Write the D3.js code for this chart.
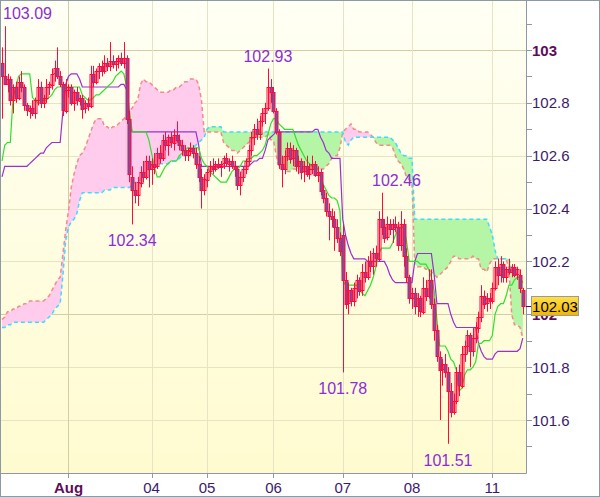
<!DOCTYPE html>
<html><head><meta charset="utf-8">
<script src="https://cdn.jsdelivr.net/npm/d3@7"></script>
<style>html,body{margin:0;padding:0;background:#fff;}svg{display:block;font-family:"Liberation Sans",Arial,sans-serif;}</style>
</head><body><svg id="c" width="600" height="497"></svg>
<script>
// ---- data (hourly candles) ----
const opens=[102.95,102.90,102.87,102.89,102.81,102.86,102.82,102.88,102.86,102.79,102.77,102.78,102.76,102.81,102.86,102.80,102.82,102.86,102.87,102.91,
102.93,102.90,102.87,102.77,102.85,102.86,102.80,102.84,102.81,102.82,102.78,102.80,102.79,102.91,102.88,102.92,102.94,102.92,102.95,102.94,
102.96,102.95,102.96,102.97,102.95,102.97,102.74,102.52,102.47,102.45,102.50,102.54,102.52,102.58,102.55,102.57,102.56,102.61,102.59,102.66,
102.64,102.67,102.65,102.68,102.66,102.64,102.62,102.60,102.62,102.63,102.61,102.57,102.52,102.47,102.51,102.54,102.56,102.55,102.57,102.56,
102.57,102.59,102.57,102.58,102.56,102.55,102.49,102.52,102.55,102.58,102.62,102.67,102.70,102.68,102.73,102.76,102.78,102.86,102.84,102.77,
102.69,102.57,102.55,102.60,102.63,102.59,102.62,102.56,102.58,102.54,102.56,102.53,102.55,102.57,102.53,102.54,102.47,102.44,102.39,102.37,
102.36,102.33,102.29,102.30,102.13,102.04,102.09,102.05,102.10,102.13,102.09,102.16,102.14,102.20,102.18,102.23,102.21,102.36,102.33,102.29,
102.34,102.32,102.34,102.33,102.26,102.34,102.22,102.14,102.06,102.08,102.03,102.06,102.01,102.10,102.07,102.13,102.04,101.94,101.84,101.79,
101.81,101.78,101.71,101.63,101.67,101.78,101.73,101.85,101.88,101.92,101.86,101.91,101.95,101.99,102.07,102.04,102.06,102.05,102.10,102.18,
102.15,102.19,102.14,102.17,102.16,102.18,102.15,102.15,102.09];
const highs=[103.01,103.09,102.91,102.90,102.87,102.88,102.90,102.92,102.87,102.80,102.79,102.81,102.82,102.89,102.88,102.83,102.89,102.88,102.93,102.96,
103.01,102.92,102.88,102.89,102.87,102.87,102.85,102.86,102.83,102.83,102.81,102.82,102.94,102.94,102.93,102.95,102.96,102.98,102.97,103.03,
102.98,102.97,102.98,102.99,103.03,102.98,102.77,102.56,102.50,102.52,102.56,102.58,102.60,102.60,102.59,102.61,102.63,102.64,102.68,102.69,
102.68,102.69,102.70,102.73,102.68,102.66,102.64,102.63,102.65,102.64,102.63,102.60,102.55,102.53,102.55,102.58,102.59,102.58,102.59,102.58,
102.60,102.61,102.59,102.60,102.58,102.56,102.54,102.56,102.59,102.64,102.69,102.72,102.74,102.75,102.78,102.80,102.93,102.89,102.86,102.78,
102.70,102.60,102.62,102.65,102.65,102.64,102.63,102.60,102.59,102.58,102.60,102.57,102.60,102.58,102.56,102.55,102.49,102.46,102.42,102.40,
102.39,102.36,102.31,102.34,102.16,102.12,102.10,102.12,102.15,102.14,102.19,102.20,102.22,102.24,102.25,102.26,102.39,102.46,102.36,102.37,
102.36,102.36,102.37,102.35,102.39,102.36,102.25,102.15,102.10,102.10,102.08,102.07,102.14,102.13,102.17,102.17,102.06,101.96,101.86,101.83,
101.85,101.80,101.74,101.70,101.80,101.81,101.88,101.90,101.94,101.93,101.95,101.97,102.01,102.11,102.09,102.08,102.08,102.12,102.20,102.21,
102.22,102.20,102.18,102.21,102.19,102.19,102.18,102.17,102.10];
const lows=[102.74,102.88,102.84,102.79,102.76,102.80,102.81,102.84,102.77,102.75,102.74,102.75,102.74,102.79,102.78,102.78,102.80,102.83,102.85,102.88,
102.89,102.86,102.75,102.76,102.82,102.79,102.77,102.79,102.79,102.74,102.76,102.77,102.78,102.86,102.87,102.89,102.90,102.91,102.92,102.92,
102.93,102.92,102.93,102.94,102.93,102.72,102.50,102.34,102.42,102.41,102.48,102.50,102.51,102.48,102.49,102.53,102.55,102.57,102.58,102.62,
102.60,102.63,102.62,102.65,102.62,102.60,102.58,102.58,102.60,102.59,102.55,102.50,102.40,102.45,102.48,102.52,102.53,102.54,102.55,102.52,
102.55,102.56,102.54,102.55,102.52,102.47,102.45,102.50,102.53,102.56,102.60,102.64,102.66,102.66,102.71,102.72,102.77,102.80,102.76,102.68,
102.55,102.48,102.53,102.58,102.57,102.56,102.54,102.53,102.51,102.50,102.52,102.51,102.53,102.52,102.50,102.45,102.42,102.37,102.28,102.33,
102.24,102.27,102.22,101.78,102.02,102.00,102.03,102.03,102.06,102.07,102.07,102.12,102.13,102.16,102.15,102.18,102.20,102.30,102.27,102.28,
102.30,102.27,102.31,102.24,102.24,102.18,102.12,102.04,102.02,102.00,101.99,101.99,102.00,102.05,102.06,102.02,101.90,101.82,101.60,101.73,
101.76,101.51,101.61,101.62,101.66,101.69,101.72,101.82,101.85,101.80,101.84,101.89,101.93,101.97,102.02,102.01,102.02,102.04,102.09,102.11,
102.12,102.12,102.12,102.15,102.14,102.14,102.13,102.08,102.00];
const closes=[102.90,102.87,102.89,102.81,102.86,102.82,102.88,102.86,102.79,102.77,102.78,102.76,102.81,102.86,102.80,102.82,102.86,102.87,102.91,102.93,
102.90,102.87,102.77,102.85,102.86,102.80,102.84,102.81,102.82,102.78,102.80,102.79,102.91,102.88,102.92,102.94,102.92,102.95,102.94,102.96,
102.95,102.96,102.97,102.95,102.97,102.74,102.53,102.47,102.45,102.50,102.54,102.52,102.58,102.55,102.57,102.56,102.61,102.59,102.66,102.64,
102.67,102.65,102.68,102.66,102.64,102.62,102.60,102.62,102.63,102.61,102.57,102.52,102.47,102.51,102.54,102.56,102.55,102.57,102.56,102.57,
102.59,102.57,102.58,102.56,102.55,102.49,102.52,102.55,102.58,102.62,102.67,102.70,102.68,102.73,102.76,102.78,102.86,102.84,102.77,102.69,
102.57,102.55,102.60,102.63,102.59,102.62,102.56,102.58,102.54,102.56,102.53,102.55,102.57,102.53,102.54,102.47,102.44,102.39,102.37,102.36,
102.33,102.29,102.24,102.13,102.04,102.09,102.05,102.10,102.13,102.09,102.16,102.14,102.20,102.18,102.23,102.21,102.36,102.33,102.29,102.34,
102.32,102.34,102.33,102.26,102.34,102.22,102.14,102.06,102.08,102.03,102.06,102.01,102.10,102.07,102.13,102.04,101.94,101.84,101.79,101.81,
101.78,101.71,101.63,101.67,101.78,101.73,101.85,101.88,101.92,101.86,101.91,101.95,101.99,102.07,102.04,102.06,102.05,102.10,102.18,102.15,
102.19,102.14,102.17,102.16,102.18,102.15,102.17,102.10,102.03];
// Ichimoku lines
const tenkan=[102.58,102.64,102.65,102.65,102.82,102.86,102.90,102.91,102.91,102.91,102.91,102.82,102.81,102.80,102.80,102.81,102.81,102.82,102.83,102.85,
102.86,102.86,102.86,102.86,102.86,102.86,102.86,102.86,102.86,102.83,102.82,102.81,102.81,102.82,102.83,102.83,102.84,102.85,102.86,102.87,
102.88,102.90,102.91,102.92,102.91,102.86,102.77,102.69,102.69,102.69,102.69,102.69,102.69,102.66,102.61,102.56,102.52,102.52,102.54,102.56,
102.57,102.58,102.58,102.58,102.60,102.61,102.62,102.63,102.63,102.63,102.63,102.63,102.59,102.57,102.56,102.54,102.53,102.52,102.51,102.50,
102.50,102.50,102.52,102.54,102.55,102.55,102.56,102.58,102.58,102.59,102.59,102.60,102.60,102.61,102.62,102.64,102.68,102.72,102.74,102.74,
102.72,102.71,102.70,102.70,102.70,102.70,102.67,102.64,102.62,102.60,102.58,102.57,102.56,102.56,102.55,102.52,102.49,102.47,102.45,102.44,
102.44,102.43,102.39,102.13,102.11,102.11,102.11,102.11,102.11,102.09,102.08,102.07,102.09,102.11,102.14,102.18,102.23,102.25,102.25,102.25,
102.25,102.27,102.30,102.32,102.33,102.33,102.28,102.20,102.20,102.20,102.20,102.19,102.19,102.19,102.17,102.14,102.09,101.98,101.88,101.88,
101.88,101.86,101.83,101.82,101.79,101.71,101.72,101.77,101.79,101.79,101.80,101.82,101.89,101.89,101.90,101.90,101.90,101.92,102.00,102.03,
102.04,102.04,102.07,102.11,102.11,102.13,102.14,102.14,102.12];
const kijun=[102.52,102.56,102.56,102.56,102.56,102.56,102.56,102.56,102.56,102.56,102.57,102.58,102.59,102.60,102.61,102.61,102.63,102.64,102.65,102.65,
102.65,102.65,102.77,102.87,102.90,102.91,102.91,102.91,102.89,102.86,102.86,102.86,102.86,102.86,102.86,102.86,102.86,102.86,102.86,102.86,
102.86,102.86,102.86,102.87,102.87,102.85,102.72,102.69,102.69,102.69,102.69,102.69,102.69,102.69,102.69,102.69,102.69,102.69,102.69,102.69,
102.69,102.69,102.69,102.69,102.69,102.69,102.69,102.69,102.69,102.69,102.69,102.64,102.56,102.56,102.56,102.56,102.56,102.56,102.56,102.56,
102.56,102.56,102.56,102.56,102.56,102.56,102.56,102.56,102.56,102.56,102.57,102.58,102.58,102.59,102.59,102.62,102.66,102.67,102.68,102.69,
102.69,102.69,102.69,102.69,102.69,102.69,102.69,102.69,102.69,102.69,102.69,102.69,102.69,102.70,102.70,102.67,102.65,102.62,102.61,102.59,
102.59,102.59,102.59,102.36,102.30,102.26,102.23,102.21,102.21,102.21,102.21,102.21,102.20,102.20,102.20,102.20,102.20,102.20,102.20,102.18,
102.15,102.13,102.12,102.12,102.12,102.12,102.12,102.12,102.12,102.20,102.23,102.23,102.23,102.23,102.23,102.23,102.15,102.04,102.04,102.04,
102.04,102.04,102.00,101.97,101.95,101.95,101.95,101.95,101.95,101.95,101.95,101.95,101.89,101.86,101.84,101.83,101.83,101.83,101.85,101.86,
101.86,101.86,101.86,101.86,101.86,101.86,101.86,101.87,101.91];
const spanA=[101.98,101.99,102.01,102.01,102.02,102.02,102.03,102.03,102.04,102.04,102.05,102.05,102.05,102.05,102.05,102.05,102.06,102.07,102.09,102.11,
102.13,102.14,102.23,102.32,102.39,102.48,102.53,102.57,102.60,102.61,102.63,102.66,102.69,102.72,102.74,102.74,102.74,102.71,102.71,102.70,
102.71,102.71,102.72,102.73,102.74,102.75,102.77,102.78,102.80,102.81,102.87,102.89,102.88,102.88,102.87,102.86,102.85,102.84,102.84,102.84,
102.84,102.85,102.85,102.86,102.86,102.87,102.88,102.88,102.89,102.89,102.89,102.87,102.81,102.69,102.69,102.69,102.69,102.69,102.69,102.69,
102.65,102.64,102.63,102.62,102.62,102.61,102.62,102.63,102.64,102.65,102.66,102.67,102.67,102.67,102.67,102.67,102.68,102.66,102.66,102.60,
102.56,102.55,102.55,102.54,102.54,102.55,102.55,102.55,102.55,102.55,102.55,102.55,102.55,102.55,102.55,102.55,102.55,102.56,102.57,102.59,
102.60,102.60,102.63,102.69,102.70,102.71,102.72,102.70,102.70,102.69,102.69,102.69,102.69,102.68,102.67,102.65,102.64,102.64,102.64,102.64,
102.64,102.63,102.60,102.58,102.57,102.55,102.52,102.51,102.50,102.19,102.18,102.18,102.18,102.17,102.17,102.16,102.15,102.14,102.15,102.16,
102.17,102.18,102.20,102.22,102.22,102.21,102.21,102.21,102.21,102.21,102.22,102.21,102.21,102.17,102.17,102.16,102.19,102.21,102.21,102.21,
102.21,102.21,102.21,102.17,102.00,101.96,101.96,101.95,101.91];
const spanB=[101.95,101.95,101.96,101.96,101.97,101.97,101.97,101.97,101.97,101.97,101.97,101.97,101.97,101.97,101.97,101.97,101.98,101.99,102.00,102.02,
102.03,102.04,102.15,102.28,102.33,102.35,102.36,102.38,102.43,102.46,102.46,102.46,102.46,102.46,102.46,102.46,102.46,102.47,102.47,102.47,
102.48,102.48,102.48,102.48,102.48,102.48,102.48,102.49,102.50,102.50,102.51,102.53,102.54,102.55,102.56,102.56,102.56,102.57,102.57,102.57,
102.57,102.58,102.58,102.58,102.59,102.60,102.60,102.61,102.62,102.63,102.64,102.65,102.66,102.67,102.70,102.71,102.71,102.71,102.71,102.71,
102.69,102.69,102.69,102.69,102.69,102.69,102.69,102.69,102.69,102.69,102.69,102.69,102.69,102.69,102.69,102.69,102.69,102.69,102.69,102.69,
102.69,102.69,102.69,102.69,102.69,102.69,102.69,102.69,102.69,102.69,102.69,102.69,102.69,102.69,102.69,102.69,102.69,102.69,102.69,102.69,
102.69,102.69,102.69,102.69,102.65,102.64,102.66,102.67,102.67,102.67,102.67,102.67,102.67,102.67,102.67,102.67,102.67,102.67,102.67,102.67,
102.67,102.66,102.65,102.63,102.61,102.60,102.60,102.59,102.59,102.36,102.36,102.36,102.36,102.36,102.36,102.36,102.36,102.36,102.36,102.36,
102.36,102.36,102.36,102.36,102.36,102.36,102.36,102.36,102.36,102.36,102.36,102.36,102.36,102.36,102.36,102.36,102.33,102.30,102.24,102.21,
102.21,102.21,102.21,102.21,102.17,102.16,102.15,102.14,102.12];
// x axis: day labels at candle indices
const dayLabels=["Aug","04","05","06","07","08","11"];
const dayIndex=[24,54,74,98,123,148,177];
const dayBold=[true,false,false,false,false,false,false];
// y axis
const yMajor=[101.6,101.8,102.0,102.2,102.4,102.6,102.8,103.0];
const yMajorLabels=["101.6","101.8","102","102.2","102.4","102.6","102.8","103"];
const yMinor=[101.5,101.7,101.9,102.1,102.3,102.5,102.7,102.9,103.1];
// marked extremes: candle index and kind
const extremeIdx=[1,96,137,47,123,161];
const extremeKind=["high","high","high","low","low","low"];

// ---- drawing ----
const svg=d3.select("#c");
const W=600,H=497, PL=1,PT=1,PR=526,PB=473;
const N=closes.length;
const x=d3.scaleLinear().domain([0,188]).range([2,522.8]);
const y=d3.scaleLinear().domain([101.6,103]).range([420,50]);

const defs=svg.append("defs");
const bg=defs.append("linearGradient").attr("id","bg").attr("x1",0).attr("y1",0).attr("x2",0).attr("y2",1);
bg.append("stop").attr("offset","0%").attr("stop-color","#fffff4");
bg.append("stop").attr("offset","100%").attr("stop-color","#fffbd0");
const gold=defs.append("linearGradient").attr("id","gold").attr("x1",0).attr("y1",0).attr("x2",0).attr("y2",1);
gold.append("stop").attr("offset","0%").attr("stop-color","#ffe14a");
gold.append("stop").attr("offset","100%").attr("stop-color","#f2b400");
defs.append("clipPath").attr("id","clip").append("rect").attr("x",PL).attr("y",PT).attr("width",PR-PL).attr("height",PB-PT);

svg.append("rect").attr("width",W).attr("height",H).attr("fill","#fff");
svg.append("rect").attr("x",PL).attr("y",PT).attr("width",PR-PL).attr("height",PB-PT).attr("fill","url(#bg)");

const plot=svg.append("g").attr("clip-path","url(#clip)");
// grid
plot.selectAll("line.hg").data(yMajor).join("line")
  .attr("x1",PL).attr("x2",PR)
  .attr("y1",d=>Math.round(y(d))+0.5).attr("y2",d=>Math.round(y(d))+0.5)
  .attr("stroke",d=>Math.abs(d-Math.round(d))<1e-6?"#d2cda2":"#e7e4c4").attr("stroke-width",1);
plot.selectAll("line.vg").data(dayIndex).join("line")
  .attr("x1",d=>Math.round(x(d))+0.5).attr("x2",d=>Math.round(x(d))+0.5)
  .attr("y1",PT).attr("y2",PB)
  .attr("stroke",(d,i)=>dayBold[i]?"#d2cda2":"#e7e4c4").attr("stroke-width",1);

// cloud
const cloud=d3.range(Math.min(spanA.length,spanB.length)).map(i=>({i,a:spanA[i],b:spanB[i]}));
plot.append("path").datum(cloud).attr("fill","#ffccee")
  .attr("d",d3.area().x(d=>x(d.i)).y0(d=>y(d.b)).y1(d=>y(Math.max(d.a,d.b))));
plot.append("path").datum(cloud).attr("fill","#b4f6a6")
  .attr("d",d3.area().x(d=>x(d.i)).y0(d=>y(d.a)).y1(d=>y(Math.max(d.a,d.b))));
plot.append("path").datum(cloud).attr("fill","none").attr("stroke","#f58a8a").attr("stroke-width",1.5).attr("stroke-dasharray","4,3")
  .attr("d",d3.line().x(d=>x(d.i)).y(d=>y(d.a)));
plot.append("path").datum(cloud).attr("fill","none").attr("stroke","#38defc").attr("stroke-width",1.5).attr("stroke-dasharray","4,3")
  .attr("d",d3.line().x(d=>x(d.i)).y(d=>y(d.b)));

// kijun & tenkan
plot.append("path").datum(kijun).attr("fill","none").attr("stroke","#9a30d0").attr("stroke-width",1.2)
  .attr("d",d3.line().x((d,i)=>x(i)).y(d=>y(d)));
plot.append("path").datum(tenkan).attr("fill","none").attr("stroke","#2ee02e").attr("stroke-width",1.2)
  .attr("d",d3.line().x((d,i)=>x(i)).y(d=>y(d)));

// candles
const candles=d3.range(N).map(i=>({i,o:opens[i],h:highs[i],l:lows[i],c:closes[i]}));
const cg=plot.append("g");
cg.selectAll("line").data(candles).join("line")
  .attr("x1",d=>Math.round(x(d.i))+0.5).attr("x2",d=>Math.round(x(d.i))+0.5)
  .attr("y1",d=>y(d.h)).attr("y2",d=>y(d.l)).attr("stroke","#ff0a3c").attr("stroke-width",1);
cg.selectAll("rect").data(candles).join("rect")
  .attr("x",d=>Math.round(x(d.i))-1).attr("width",3)
  .attr("y",d=>Math.round(y(Math.max(d.o,d.c)))+0.5)
  .attr("height",d=>Math.max(1,Math.round(Math.abs(y(d.o)-y(d.c)))))
  .attr("fill",d=>d.c<d.o?"#7452a6":"none")
  .attr("stroke","#ff0a3c").attr("stroke-width",1);

// extreme labels
const labelShift={137:15};
extremeIdx.forEach((idx,k)=>{
  const hi=extremeKind[k]==="high";
  const v=hi?highs[idx]:lows[idx];
  const txt=v.toFixed(2);
  const t=svg.append("text").text(txt).attr("font-size",16).attr("fill","#8e2cd6")
    .attr("y",hi?y(v)-7:y(v)+22);
  const w=t.node().getComputedTextLength();
  let cx=x(idx)+(labelShift[idx]||0);
  let left=Math.max(3,Math.min(cx-w/2,PR-3-w));
  t.attr("x",left);
});

// axes
svg.append("line").attr("x1",PR+0.5).attr("x2",PR+0.5).attr("y1",0).attr("y2",PB+0.5).attr("stroke","#8c9aa8");
svg.append("line").attr("x1",0).attr("x2",PR+0.5).attr("y1",PB+0.5).attr("y2",PB+0.5).attr("stroke","#8c9aa8");
svg.selectAll("line.ymaj").data(yMajor.concat(yMinor)).join("line")
  .attr("x1",PR).attr("x2",PR+6)
  .attr("y1",d=>Math.round(y(d))+0.5).attr("y2",d=>Math.round(y(d))+0.5).attr("stroke","#8c9aa8");
svg.selectAll("text.yl").data(yMajor).join("text")
  .attr("x",532).attr("y",d=>y(d)+5.5)
  .attr("font-size",15)
  .attr("font-weight",(d,i)=>yMajorLabels[i].indexOf(".")<0?"bold":"normal")
  .attr("fill",(d,i)=>yMajorLabels[i].indexOf(".")<0?"#5e0c5a":"#3c1a6e")
  .text((d,i)=>yMajorLabels[i]);
svg.selectAll("line.xt").data(dayIndex).join("line")
  .attr("x1",d=>Math.round(x(d))+0.5).attr("x2",d=>Math.round(x(d))+0.5)
  .attr("y1",PB).attr("y2",PB+5).attr("stroke","#8c9aa8");
svg.selectAll("text.xl").data(dayIndex).join("text")
  .attr("x",d=>x(d)).attr("y",492.5).attr("text-anchor","middle")
  .attr("font-size",15).attr("font-weight",(d,i)=>dayBold[i]?"bold":"normal")
  .attr("fill",(d,i)=>dayBold[i]?"#5e0c5a":"#3c1a6e")
  .text((d,i)=>dayLabels[i]);

// last price box
const last=closes[N-1], ly=y(last);
svg.append("line").attr("x1",PR).attr("x2",532).attr("y1",Math.round(ly)+0.5).attr("y2",Math.round(ly)+0.5).attr("stroke","#550055");
svg.append("rect").attr("x",531.5).attr("y",Math.round(ly)-9.5).attr("width",47).attr("height",19)
  .attr("fill","url(#gold)").attr("stroke","#9a9a9a");
svg.append("text").attr("x",555).attr("y",ly+5.5).attr("text-anchor","middle").attr("font-size",15).attr("fill","#000").text(last.toFixed(2));

// outer frame
svg.append("rect").attr("x",0.5).attr("y",0.5).attr("width",W-1).attr("height",H-1).attr("fill","none").attr("stroke","#8c9aa8");
</script></body></html>
